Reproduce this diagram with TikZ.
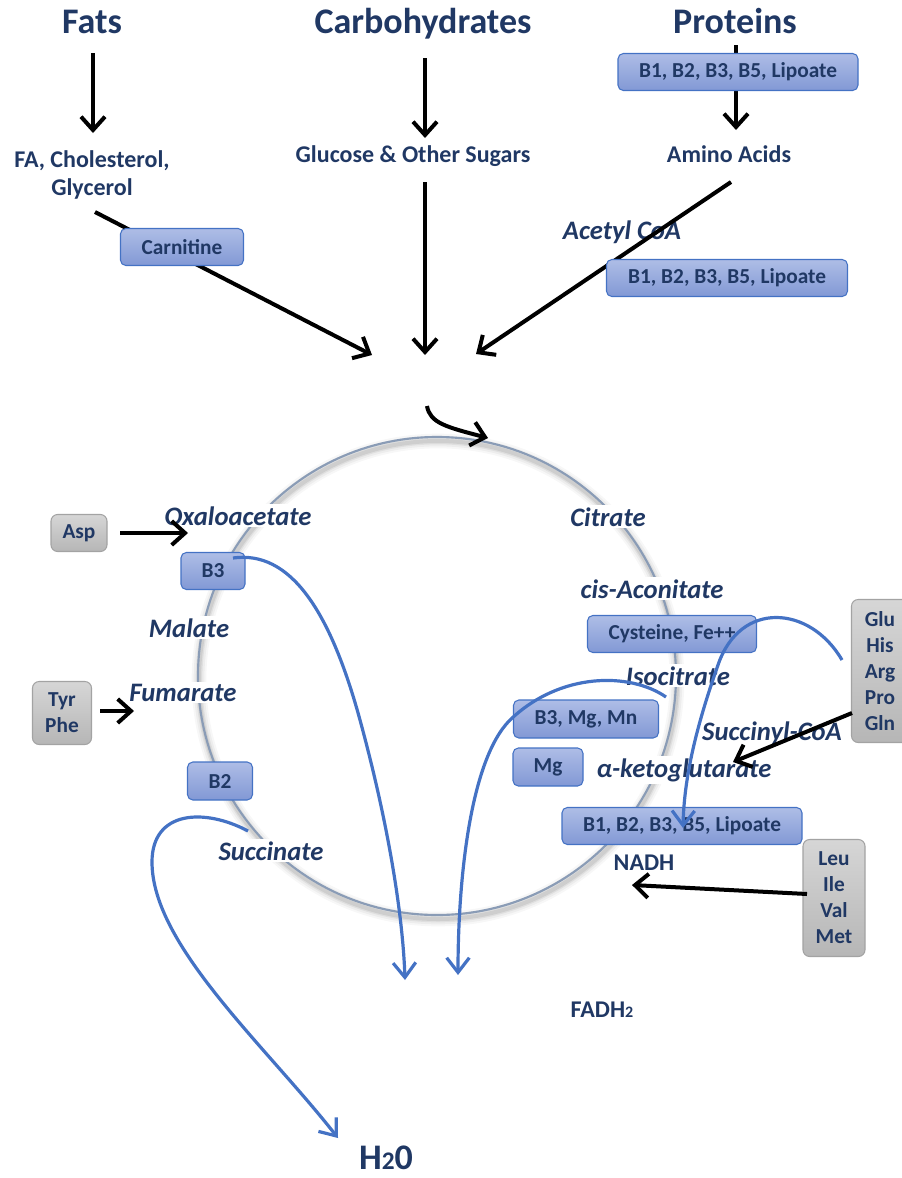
\documentclass[tikz,border=0pt]{standalone}
\usepackage{fontspec}
\setmainfont{Carlito}
\usetikzlibrary{arrows.meta}
\definecolor{navy}{HTML}{203864}
\definecolor{bxtop}{HTML}{AEBDE6}
\definecolor{bxbot}{HTML}{8298D5}
\definecolor{bxline}{HTML}{4472C4}
\definecolor{grtop}{HTML}{D6D6D6}
\definecolor{grbot}{HTML}{B6B6B6}
\definecolor{grline}{HTML}{A3A3A3}
\definecolor{ringc}{HTML}{8A9CB6}
\definecolor{bluec}{HTML}{4472C4}
\tikzset{
  ttl/.style={font=\bfseries\fontsize{27}{30}\selectfont, text=navy, anchor=base, inner sep=0pt},
  lbl/.style={font=\bfseries\fontsize{18}{21}\selectfont, text=navy, align=center, inner sep=0pt},
  ilbl/.style={font=\bfseries\itshape\fontsize{20}{24}\selectfont, text=navy, anchor=base, inner sep=1.5pt},
  wlbl/.style={ilbl, fill=white},
  bbox/.style={draw=bxline, line width=0.8pt, rounded corners=4pt, top color=bxtop, bottom color=bxbot,
    font=\bfseries\fontsize{16}{19}\selectfont, text=navy, inner sep=0pt, minimum height=27.75pt},
  gbox/.style={draw=grline, line width=0.8pt, rounded corners=5pt, top color=grtop, bottom color=grbot,
    font=\bfseries\fontsize{16}{19.5}\selectfont, text=navy, inner sep=0pt, align=center},
  blk/.style={line width=3pt, black, -{Straight Barb[length=10pt,width=18pt,line width=3pt]}},
  blu/.style={line width=2.4pt, bluec, -{Straight Barb[length=11pt,width=17pt,line width=2.4pt]}},
}
\begin{document}
\begin{tikzpicture}[x=0.75pt,y=-0.75pt]
\useasboundingbox (0,0) rectangle (902,1178);

% ---- cycle ring with soft shadow
\coordinate (cc) at (437,676);
\foreach \w/\o in {11/0.03,8/0.04,5/0.06,3/0.08}
  \draw[line width=\w pt, black, opacity=\o] ([shift={(1,4)}]cc) circle[radius=239];
\draw[line width=1.6pt, ringc] (cc) circle[radius=239];

% ---- titles and labels
\node[ttl] (fats) at (92,33) {Fats};
\node[ttl] (carbs) at (423,33) {Carbohydrates};
\node[ttl] (prot) at (735,33) {Proteins};
\node[lbl] (fa) at (92,175) {FA, Cholesterol,\\Glycerol};
\node[lbl, anchor=base] (glu) at (413,162) {Glucose \& Other Sugars};
\node[lbl, anchor=base] (amino) at (729,162) {Amino Acids};
\node[ilbl] (acoa) at (622,239) {Acetyl CoA};

\node[wlbl] (oxa) at (238,525) {Oxaloacetate};
\node[wlbl] (mal) at (189,637) {Malate};
\node[wlbl] (fum) at (183,701) {Fumarate};
\node[wlbl] (suc) at (271,860) {Succinate};
\node[wlbl] (cit) at (608,526) {Citrate};
\node[wlbl] (cis) at (652,598) {cis-Aconitate};
\node[wlbl] (iso) at (678,685) {Isocitrate};
\node[ilbl] (scoa) at (772,740) {Succinyl-CoA};
\node[wlbl] (akg) at (684,777) {α-ketoglutarate};
\node[lbl, anchor=base] (nadh) at (644,870) {NADH};
\node[lbl, anchor=base] (fadh) at (602,1017) {FADH{\fontsize{12}{13}\selectfont 2}};
\node[ttl] (water) at (386,1169) {H{\fontsize{19}{20}\selectfont 2}0};

% ---- black arrows
\coordinate (f1) at (93,53);   \coordinate (f2) at (93,133);
\coordinate (c1) at (425,58);  \coordinate (c2) at (425,138);
\coordinate (p1) at (736,45);  \coordinate (p2) at (736,130);
\coordinate (f3) at (95,212);  \coordinate (f4) at (372,355);
\coordinate (c3) at (425,182); \coordinate (c4) at (425,355);
\coordinate (a3) at (731,182); \coordinate (a4) at (476,354);
\coordinate (k1) at (427,406); \coordinate (k2) at (488,438);
\draw[blk] (f1) -- (f2);
\draw[blk] (c1) -- (c2);
\draw[blk] (p1) -- (p2);
\draw[blk] (f3) -- (f4);
\draw[blk] (c3) -- (c4);
\draw[blk] (a3) -- (a4);
\draw[blk] (k1) .. controls (430,423) and (446,427) .. (k2);

% ---- coloured boxes
\node[bbox, minimum width=180pt] (pb1) at (738,72) {B1, B2, B3, B5, Lipoate};
\node[bbox, minimum width=92.25pt] (carn) at (182,247) {Carnitine};
\node[bbox, minimum width=180.75pt] (pb2) at (727,278) {B1, B2, B3, B5, Lipoate};
\node[bbox, minimum width=126.75pt] (cys) at (672,634) {Cysteine, Fe++};
\node[bbox, minimum width=108.75pt, minimum height=28.5pt] (bmm) at (586,719) {B3, Mg, Mn};
\node[bbox, minimum width=52.5pt, minimum height=28.5pt] (mg) at (548,767) {Mg};
\node[bbox, minimum width=180pt] (kb) at (682,826) {B1, B2, B3, B5, Lipoate};
\node[bbox, minimum width=48pt] (b3) at (213,571) {B3};
\node[bbox, minimum width=48.75pt, minimum height=28.5pt] (b2) at (220,781) {B2};

\node[gbox, minimum width=42pt, minimum height=27.75pt] (asp) at (79,533) {Asp};
\node[gbox, minimum width=44.25pt, minimum height=47.25pt] (tyr) at (62,713) {Tyr\\Phe};
\node[gbox, minimum width=42.75pt, minimum height=107.25pt] (gluaa) at (880,671) {Glu\\His\\Arg\\Pro\\Gln};
\node[gbox, minimum width=46.5pt, minimum height=87.75pt] (leu) at (834,898) {Leu\\Ile\\Val\\Met};

\coordinate (s1) at (120,533); \coordinate (s2) at (188,533);
\coordinate (t1) at (100,711); \coordinate (t2) at (134,711);
\coordinate (g1) at (852,713); \coordinate (g2) at (733,762);
\coordinate (l1) at (807,894); \coordinate (l2) at (632,885);
\draw[blk] (s1) -- (s2);
\draw[blk] (t1) -- (t2);
\draw[blk] (g1) -- (g2);
\draw[blk] (l1) -- (l2);

% ---- blue curves
\coordinate (u1) at (233,558); \coordinate (u2) at (405,980);
\coordinate (v1) at (666,697); \coordinate (v2) at (458,975);
\coordinate (w1) at (842,660); \coordinate (w2) at (683,828);
\coordinate (z1) at (248,831); \coordinate (z2) at (338,1138);
\draw[blu] (u1) .. controls (290,550) and (330,610) .. (360,720)
               .. controls (390,830) and (403,920) .. (u2);
\draw[blu] (v1) .. controls (630,672) and (560,672) .. (510,720)
               .. controls (470,760) and (458,880) .. (v2);
\draw[blu] (w1) .. controls (810,605) and (740,600) .. (718,665)
               .. controls (695,730) and (684,780) .. (w2);
\draw[blu] (z1) .. controls (205,808) and (152,810) .. (152,862)
               .. controls (152,945) and (265,1045) .. (z2);
\end{tikzpicture}
\end{document}
